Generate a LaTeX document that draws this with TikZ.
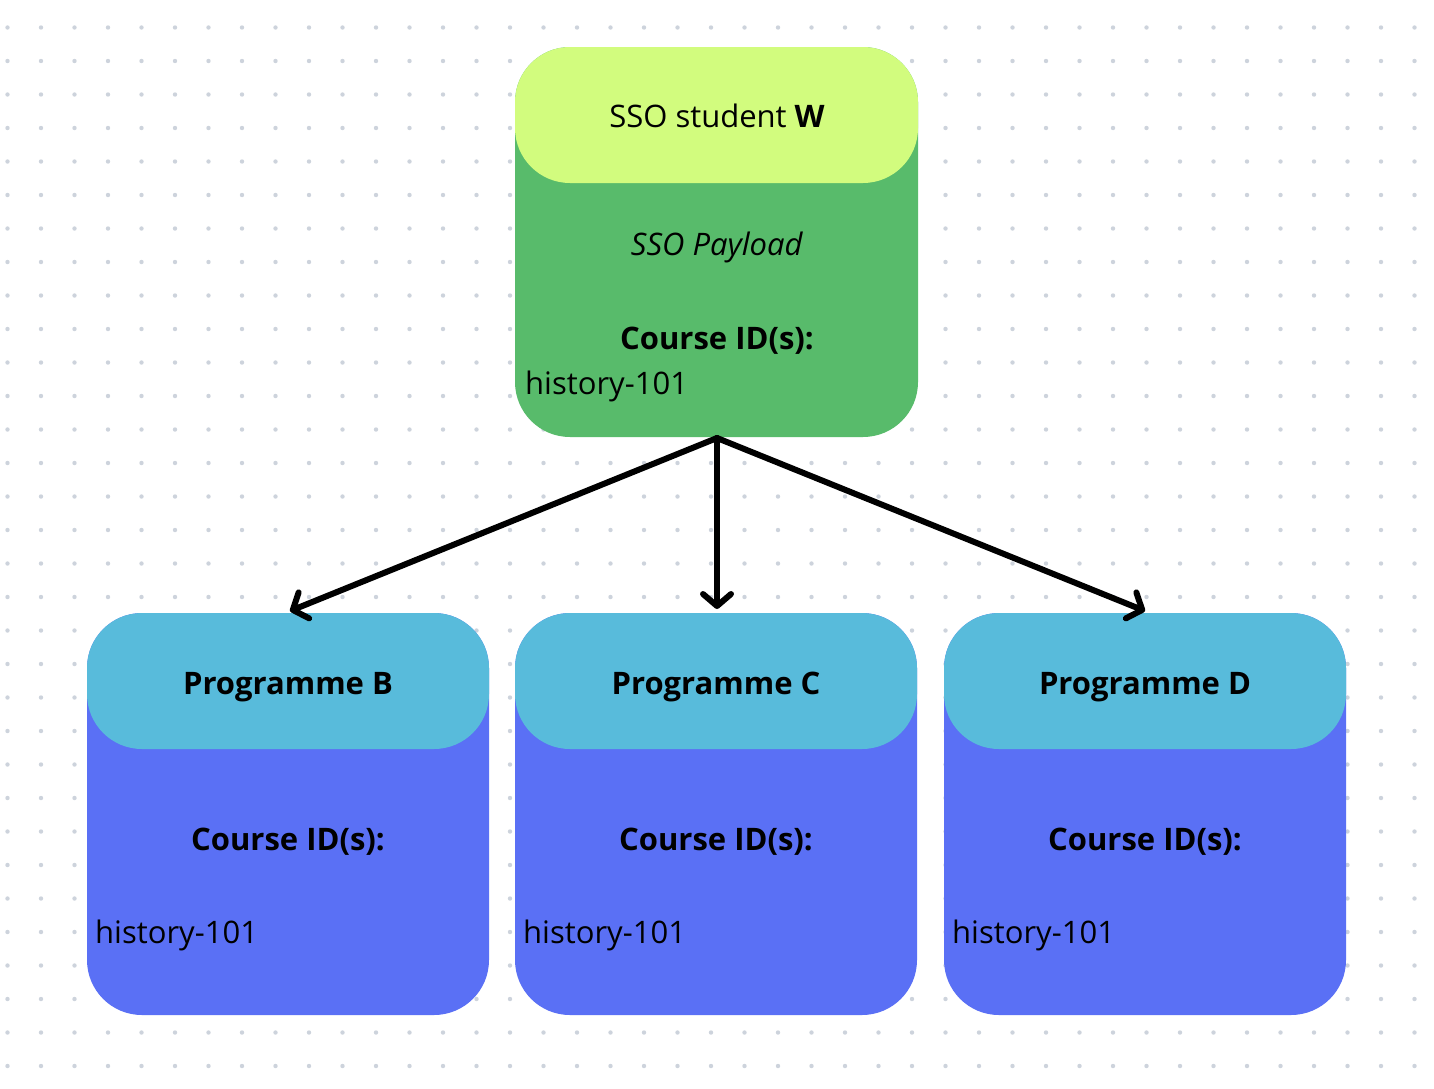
\documentclass[tikz,border=0pt]{standalone}
\usepackage{fontspec}
\setmainfont{Open Sans}
\usetikzlibrary{arrows.meta}
\definecolor{dotc}{HTML}{CDD3DC}
\definecolor{lgreen}{HTML}{D2FC7E}
\definecolor{dgreen}{HTML}{58BB6B}
\definecolor{cyanh}{HTML}{58BBDB}
\definecolor{blueb}{HTML}{5A70F5}
\begin{document}
\begin{tikzpicture}[x=1pt,y=-1pt,
  txt/.style={font=\fontsize{31}{36}\selectfont, inner sep=0pt, anchor=base},
  txl/.style={txt, anchor=base west},
  arr/.style={line width=6pt, line cap=round, -{Straight Barb[length=12pt,width=28pt,line width=6pt,round]}}]
\useasboundingbox[fill=white] (0,0) rectangle (1434,1088);
\foreach \i in {0,...,42} \foreach \j in {0,...,31}
  \fill[dotc] (7.5+33.5*\i,27.5+33.5*\j) circle (2.2);
% top box
\fill[dgreen,rounded corners=55pt] (515,47) rectangle (918,437);
\fill[lgreen,rounded corners=55pt] (515,47) rectangle (918,183);
\node[txt] (t1) at (717,127) {SSO student \textbf{W}};
\node[txt] (t2) at (717,255) {\textit{SSO Payload}};
\node[txt] (t3) at (717,349) {\textbf{Course ID(s):}};
\node[txl] (t4) at (525,394) {history-101};
\coordinate (src) at (717,438);
\foreach \n/\x/\l in {B/87/Programme B,C/515/Programme C,D/944/Programme D}{
  \fill[blueb,rounded corners=55pt] (\x,613) rectangle (\x+402,1015);
  \fill[cyanh,rounded corners=55pt] (\x,613) rectangle (\x+402,749);
  \node[txt] (h\n) at (\x+201,694) {\textbf{\l}};
  \node[txt] (c\n) at (\x+201,850) {\textbf{Course ID(s):}};
  \node[txl] (y\n) at (\x+8,943) {history-101};
  \coordinate (p\n) at (\x+203,611);
}
\draw[arr] (src) -- (pB);
\draw[arr] (src) -- (717,609);
\draw[arr] (src) -- (1145,611);
\end{tikzpicture}
\end{document}
